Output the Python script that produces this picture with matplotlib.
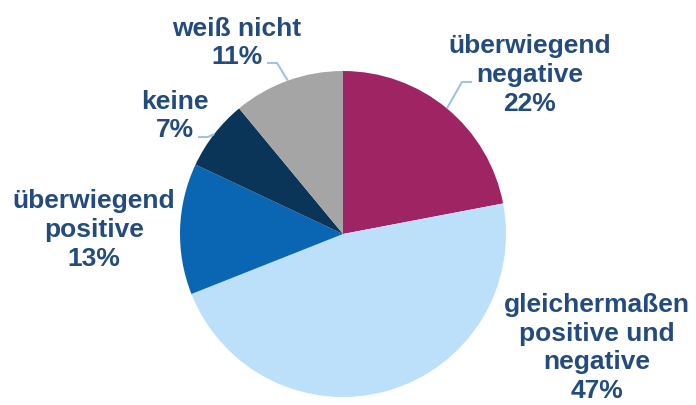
import matplotlib.pyplot as plt
import numpy as np

labels = ["überwiegend\nnegative", "gleichermaßen\npositive und\nnegative",
          "überwiegend\npositive", "keine", "weiß nicht"]
shares = [22, 47, 13, 7, 11]
colors = ["#9E2463", "#BDE0FA", "#0A66B2", "#0B3558", "#A5A5A5"]

W, H = 696, 405
text_col = "#234B7E"
line_col = "#9DC3E6"

fig = plt.figure(figsize=(W / 100, H / 100), dpi=100)
ax = fig.add_axes([0, 0, 1, 1])

cx, cy, r = 343, H - 234, 163
wedges, _ = ax.pie(shares, colors=colors, startangle=90, counterclock=False,
                   center=(cx, cy), radius=r, frame=True,
                   wedgeprops=dict(linewidth=0))
ax.set_xlim(0, W)
ax.set_ylim(0, H)
ax.set_aspect("equal")
ax.axis("off")

# label centre (pixel coords, y from top) and leader start (or None)
label_pos = [(530, 75), (597, 348), (94, 230), (175, 116), (237, 43)]
leader_start = [(472, 82), None, None, (198, 137), (267, 63)]

for w, lab, pct, pos, ls in zip(wedges, labels, shares, label_pos, leader_start):
    ax.text(pos[0], H - pos[1], f"{lab}\n{pct}%", ha="center", va="center",
            multialignment="center", fontsize=19, fontweight="bold",
            family="Liberation Sans", color=text_col, linespacing=1.25)
    if ls is not None:
        ang = np.deg2rad((w.theta1 + w.theta2) / 2)
        ex, ey = cx + r * np.cos(ang), cy + r * np.sin(ang)
        sx, sy = ls[0], H - ls[1]
        kx = sx + (10 if ex > sx else -10)
        ax.plot([sx, kx, ex], [sy, sy, ey], color=line_col, lw=1.5,
                solid_capstyle="butt")

fig.savefig("out.png", dpi=100)
